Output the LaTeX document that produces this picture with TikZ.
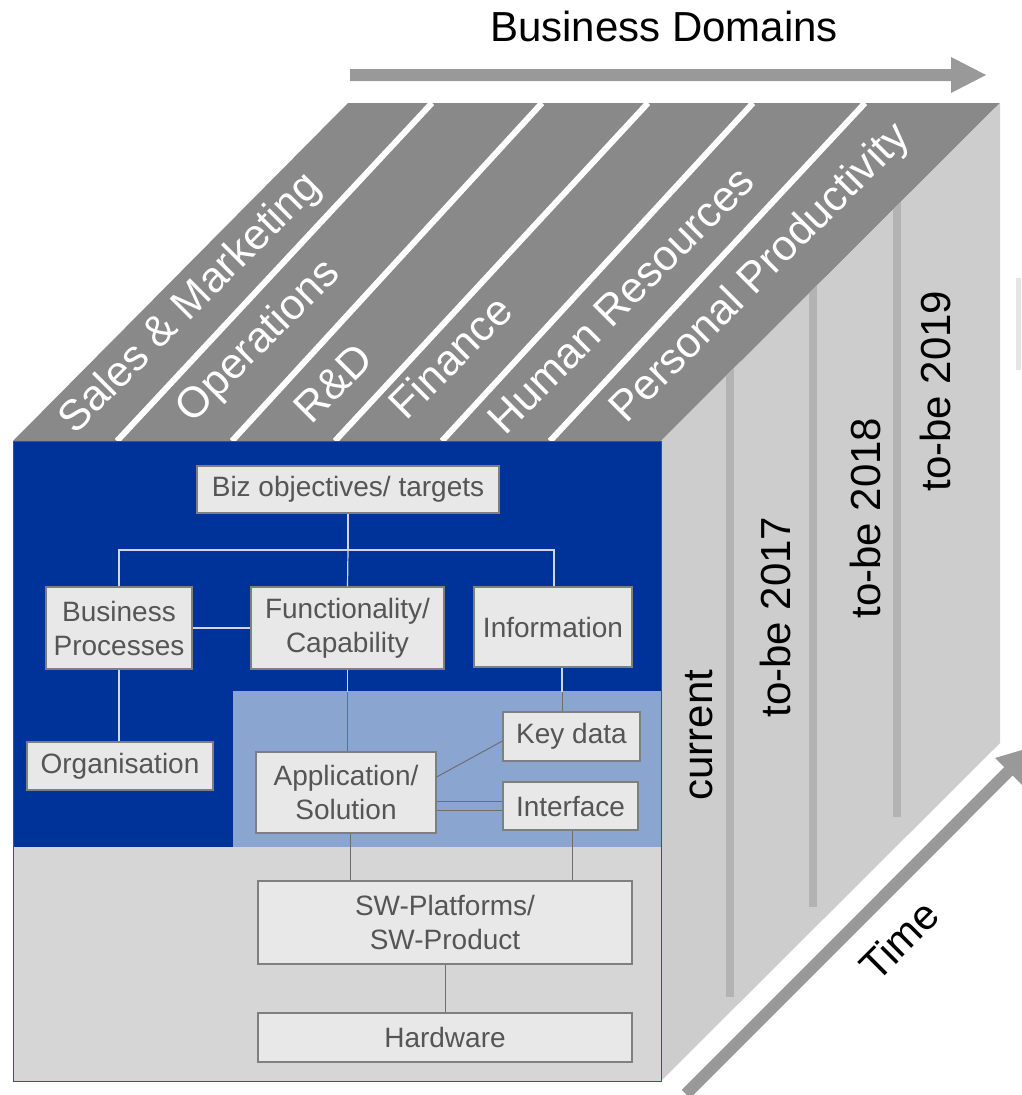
\documentclass[tikz,border=0pt]{standalone}
\usepackage{fontspec}
\setmainfont{Liberation Sans}
\usetikzlibrary{calc}

\definecolor{navy}{HTML}{003399}
\definecolor{paleblue}{HTML}{8BA5D1}
\definecolor{topgray}{HTML}{898989}
\definecolor{sidegray}{HTML}{CDCDCD}
\definecolor{bargray}{HTML}{B3B3B3}
\definecolor{basegray}{HTML}{D6D6D6}
\definecolor{boxfill}{HTML}{E8E8E8}
\definecolor{boxline}{HTML}{7F7F7F}
\definecolor{boxtext}{HTML}{555555}
\definecolor{arrowgray}{HTML}{999999}
\definecolor{linklight}{HTML}{D0D6E6}
\definecolor{linkdark}{HTML}{6E6E6E}
\definecolor{edgegray}{HTML}{E4E4E4}

\begin{document}
\begin{tikzpicture}[x=1pt,y=-1pt,
  layerbox/.style={draw=boxline, line width=1.2pt, fill=boxfill, text=boxtext,
    inner sep=0pt, align=center, font=\fontsize{28}{34}\selectfont},
  domainlabel/.style={text=white, rotate=45, font=\fontsize{43}{50}\selectfont, inner sep=0pt},
  stagelabel/.style={text=black, rotate=90, anchor=base, font=\fontsize{42}{48}\selectfont, inner sep=0pt},
  divider/.style={white, line width=6pt},
  timebar/.style={bargray, line width=8pt},
  lightlink/.style={linklight, line width=1.2pt},
  darklink/.style={linkdark, line width=1pt},
]
\useasboundingbox (0,0) rectangle (1021,1095);

% ---------- top face: business domains ----------
\fill[topgray] (13,441) -- (661,441) -- (1000,103) -- (348,103) -- cycle;
\begin{scope}
  \clip (13,441) -- (661,441) -- (1000,103) -- (348,103) -- cycle;
  \draw[divider] (117,441) -- (432,103);
  \draw[divider] (232,441) -- (542,103);
  \draw[divider] (335,441) -- (648,103);
  \draw[divider] (442,441) -- (753,103);
  \draw[divider] (550,441) -- (865,103);
\end{scope}
\node[domainlabel] (sales) at (191,304) {Sales \& Marketing};
\node[domainlabel] (ops)   at (259,342) {Operations};
\node[domainlabel] (rnd)   at (333,383) {R\&D};
\node[domainlabel] (fin)   at (450,357) {Finance};
\node[domainlabel] (hr)    at (621,300) {Human Resources};
\node[domainlabel] (pp)    at (761,274) {Personal Productivity};

% ---------- right face: time slices ----------
\fill[sidegray] (661,441) -- (1000,103) -- (1000,743) -- (661,1081) -- cycle;
\begin{scope}
  \clip (661,441) -- (1000,103) -- (1000,743) -- (661,1081) -- cycle;
  \draw[timebar] (730,340) -- (730,997);
  \draw[timebar] (813,260) -- (813,907);
  \draw[timebar] (897,170) -- (897,817);
\end{scope}
\node[stagelabel] (cur) at (712,735) {current};
\node[stagelabel] (t17) at (790,617) {to-be 2017};
\node[stagelabel] (t18) at (880,518) {to-be 2018};
\node[stagelabel] (t19) at (950,391) {to-be 2019};
\fill[edgegray] (1016,278) rectangle (1021,370);

% ---------- front face: architecture layers ----------
\fill[basegray] (13,441) rectangle (661,1081);
\fill[navy] (13,441) rectangle (661,847);
\fill[paleblue] (233,691) rectangle (661,847);
\draw[navy!60!gray, line width=1pt] (13,441) rectangle (661,1081);

% ---------- axis arrows ----------
\fill[arrowgray] (350,69) -- (951,69) -- (951,57) -- (986,75) -- (951,93)
  -- (951,81) -- (350,81) -- cycle;
\node[font=\fontsize{42}{48}\selectfont, anchor=base, inner sep=0pt] (dom) at (664,41) {Business Domains};

\fill[arrowgray] (681.8,1089.8) -- (1004.2,767.2) -- (995,758) -- (1033.1,746.7)
  -- (1021.8,784.8) -- (1012.6,775.6) -- (690.2,1098.2) -- cycle;
\node[font=\fontsize{42}{48}\selectfont, rotate=45, inner sep=0pt] (time) at (899,940) {Time};

% ---------- boxes ----------
\node[layerbox, minimum width=302pt, minimum height=47pt] (biz)  at (348,489.5) {Biz objectives/ targets};
\node[layerbox, minimum width=146pt, minimum height=82pt] (bp)   at (119,628)   {Business\\Processes};
\node[layerbox, minimum width=193pt, minimum height=82pt] (func) at (347.5,628) {Functionality/\\Capability};
\node[layerbox, minimum width=158pt, minimum height=80pt] (info) at (553,627)   {Information};
\node[layerbox, minimum width=186pt, minimum height=48pt] (org)  at (120,766)   {Organisation};
\node[layerbox, minimum width=137pt, minimum height=49pt] (key)  at (571.5,736.5) {Key data};
\node[layerbox, minimum width=180pt, minimum height=81pt] (app)  at (346,792.5) {Application/\\Solution};
\node[layerbox, minimum width=135pt, minimum height=48pt] (intf) at (570.5,806) {Interface};
\node[layerbox, minimum width=374pt, minimum height=83pt] (sw)   at (445,922.5) {SW-Platforms/\\SW-Product};
\node[layerbox, minimum width=374pt, minimum height=49pt] (hw)   at (445,1037.5) {Hardware};

% ---------- connectors ----------
\coordinate (split) at (348,550);
\draw[lightlink] (biz.south) -- (split);
\draw[lightlink] (split) -- (func.north);
\draw[lightlink] (split) -| (bp.north);
\draw[lightlink] (split) -| ([xshift=1pt]info.north);
\draw[lightlink] (bp.east) -- (func.west);
\draw[lightlink] (bp.south) -- (bp.south |- org.north);

\draw[darklink] (func.south) -- (func.south |- app.north);
\draw[darklink] ([xshift=9pt]info.south) -- ([xshift=9pt]info.south |- key.north);
\begin{scope}
  \clip (13,441) rectangle (661,691);
  \draw[lightlink] (func.south) -- (func.south |- app.north);
  \draw[lightlink] ([xshift=9pt]info.south) -- ([xshift=9pt]info.south |- key.north);
\end{scope}

\draw[darklink] ([yshift=15.5pt]app.east) -- ([yshift=-4.5pt]key.west);
\draw[darklink, double=paleblue, double distance=7.5pt] (app.east |- intf.west) -- (intf.west);
\draw[darklink] ([xshift=4pt]app.south) -- ([xshift=4pt]app.south |- sw.north);
\draw[darklink] ([xshift=1.5pt]intf.south) -- ([xshift=1.5pt]intf.south |- sw.north);
\draw[darklink] (sw.south) -- (hw.north);
\end{tikzpicture}
\end{document}
